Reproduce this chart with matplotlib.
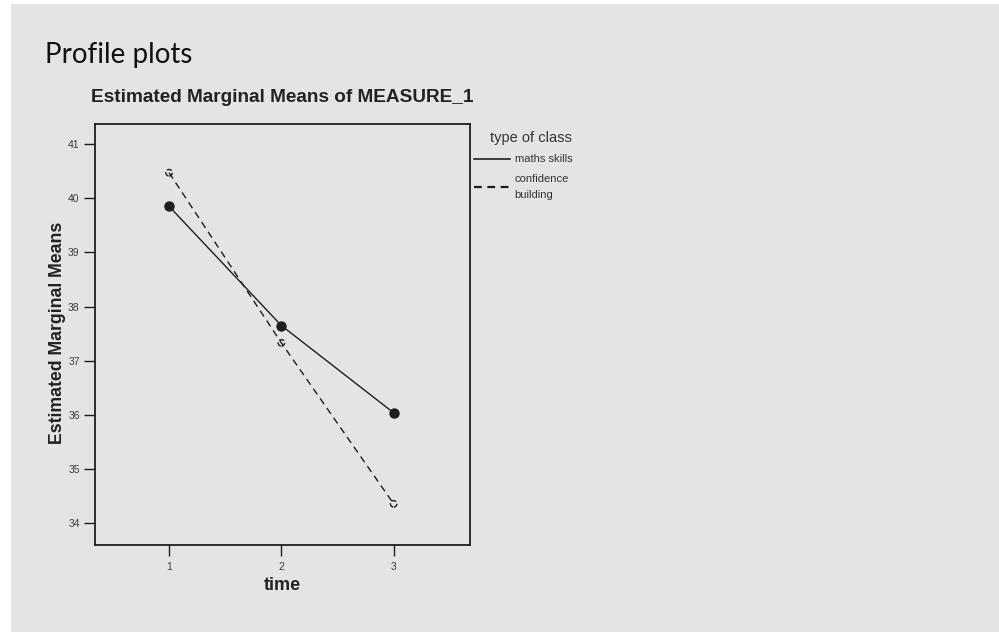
import matplotlib.pyplot as plt
from matplotlib.lines import Line2D
from matplotlib.patches import Rectangle

plt.rcParams['font.family'] = ['Liberation Sans', 'DejaVu Sans']

# data
time = [1, 2, 3]
maths_skills = [39.85, 37.65, 36.04]
confidence_building = [40.47, 37.33, 34.36]
y_ticks = [34, 35, 36, 37, 38, 39, 40, 41]
series_labels = ['maths skills', 'confidence\nbuilding']

bg = '#e4e4e4'
ink = '#1e1e1e'

fig = plt.figure(figsize=(9.99, 6.32), dpi=100)
fig.patches.append(Rectangle((11 / 999, 0), 1 - 11 / 999, 1 - 4 / 632,
                             transform=fig.transFigure, facecolor=bg,
                             edgecolor='none', zorder=-10))

ax = fig.add_axes([95 / 999, 1 - 545 / 632, 375 / 999, 421 / 632])
ax.set_facecolor(bg)

ax.plot(time, maths_skills, color=ink, lw=1.0, marker='o', ms=6.5,
        mfc=ink, mec=ink)
ax.plot(time, confidence_building, color=ink, lw=1.0, ls=(0, (5, 3.5)))
ax.scatter(time, confidence_building, s=22, facecolors='none',
           edgecolors=ink, linewidths=1.0, linestyles='--', zorder=3)

ax.set_xlim(0.34, 3.68)
ax.set_ylim(33.6, 41.37)
ax.set_xticks(time)
ax.set_yticks(y_ticks)
ax.tick_params(axis='both', direction='out', length=8, width=1.0,
               colors=ink, labelsize=7.5, labelcolor='#3a3a3a')
ax.tick_params(axis='y', pad=3)
ax.tick_params(axis='x', pad=4)
for s in ax.spines.values():
    s.set_linewidth(1.3)
    s.set_color(ink)

fig.text(45 / 999, 1 - 63 / 632, 'Profile plots', fontsize=20,
         family='Lato', color='#111111', va='baseline', ha='left')
fig.text(91 / 999, 1 - 102 / 632, 'Estimated Marginal Means of MEASURE_1',
         fontsize=13.7, fontweight='bold', color='#222222',
         va='baseline', ha='left')
fig.text(58 / 999, 1 - 333 / 632, 'Estimated Marginal Means', rotation=90,
         fontsize=12.7, fontweight='bold', color='#222222',
         va='center', ha='center')
fig.text(282 / 999, 1 - 586 / 632, 'time', fontsize=13, fontweight='bold',
         color='#222222', va='center', ha='center')

handles = [Line2D([], [], color=ink, lw=1.2),
           Line2D([], [], color=ink, lw=1.6, ls=(0, (3.5, 2.5)))]
leg = ax.legend(handles, series_labels, loc='upper left',
                bbox_to_anchor=(474 / 999, 1 - 131 / 632),
                bbox_transform=fig.transFigure, frameon=False,
                title='type of class', title_fontsize=10.5, fontsize=8,
                handlelength=3.2, handletextpad=0.45, borderpad=0,
                borderaxespad=0, labelspacing=0.85)
for t in leg.get_texts():
    t.set_color('#333333')
    t.set_linespacing(1.75)
leg.get_title().set_color('#333333')
leg._legend_box.align = 'right'

fig.savefig('out.png', dpi=100)
